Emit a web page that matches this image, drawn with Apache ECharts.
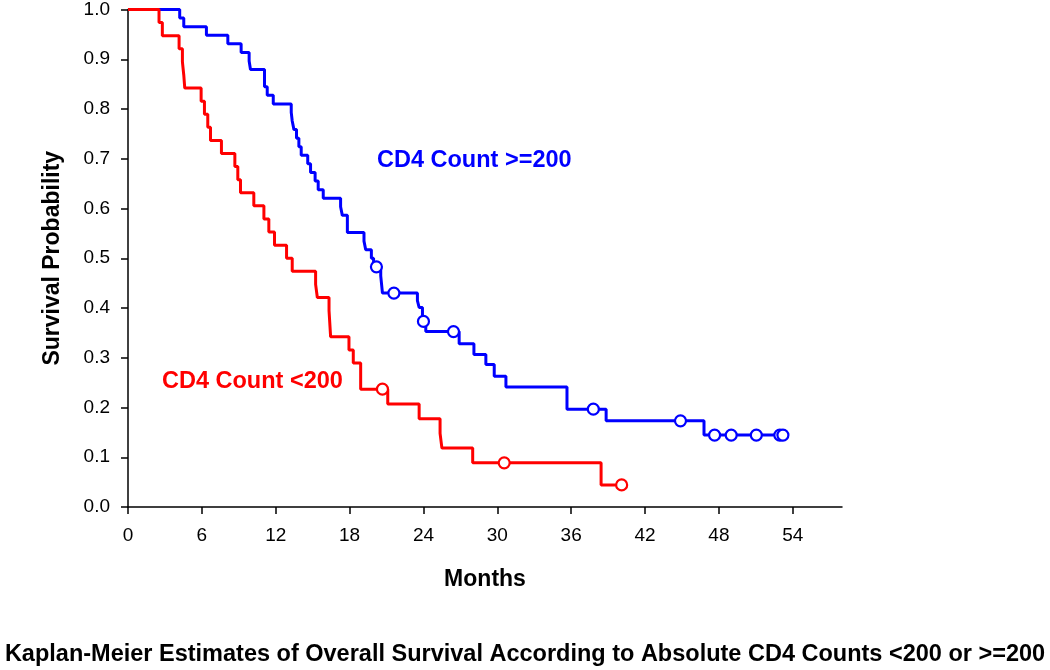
<!DOCTYPE html>
<html>
<head>
<meta charset="utf-8">
<script src="https://cdn.jsdelivr.net/npm/echarts@6/dist/echarts.min.js"></script>
<style>html,body{margin:0;padding:0;background:#fff}#c{width:1050px;height:670px}</style>
</head>
<body>
<div id="c"></div>
<script>
// ---- Data ----
const xTicks = [0, 6, 12, 18, 24, 30, 36, 42, 48, 54];
const yTicks = [0, 0.1, 0.2, 0.3, 0.4, 0.5, 0.6, 0.7, 0.8, 0.9, 1.0];

// CD4 >= 200 (blue): step times (months) and survival after each step
const highTimes = [0, 4.2, 4.53, 6.37, 8.11, 9.19, 9.84, 9.95, 11.09, 11.31, 11.8, 13.26, 13.34, 13.48, 13.69, 13.88, 14.07, 14.6, 14.83, 15.2, 15.45, 15.86, 17.27, 17.41, 17.82, 19.17, 19.31, 19.77, 19.95, 20.53, 20.67, 23.51, 23.65, 23.92, 23.97, 24.19, 26.9, 28.1, 29.07, 29.75, 30.7, 35.66, 38.84, 46.79, 53.2];
const highSurv  = [1, 0.9828, 0.9655, 0.9483, 0.931, 0.9138, 0.8966, 0.8793, 0.8448, 0.8276, 0.8103, 0.7931, 0.7759, 0.7586, 0.7414, 0.7241, 0.7069, 0.6897, 0.6724, 0.6552, 0.6379, 0.6207, 0.6034, 0.5862, 0.5517, 0.5345, 0.5172, 0.5, 0.4828, 0.4646, 0.43, 0.4146, 0.401, 0.3846, 0.373, 0.3526, 0.328, 0.3066, 0.2866, 0.2626, 0.2412, 0.1966, 0.1732, 0.1446, 0.1446];
const highCensorTimes = [20.18, 21.6, 24.0, 26.44, 37.8, 44.88, 47.65, 49.0, 51.04, 52.95, 53.2];
const highCensorSurv  = [0.4828, 0.43, 0.373, 0.3526, 0.1966, 0.1732, 0.1446, 0.1446, 0.1446, 0.1446, 0.1446];

// CD4 < 200 (red)
const lowTimes = [0, 2.52, 2.79, 4.15, 4.42, 4.53, 4.61, 5.94, 6.21, 6.48, 6.70, 7.59, 8.68, 8.92, 9.14, 10.22, 11.04, 11.44, 11.9, 12.88, 13.34, 15.24, 15.38, 16.33, 16.46, 17.95, 18.3, 18.9, 21.1, 23.65, 25.35, 25.5, 28.0, 38.43, 40.1];
const lowSurv  = [1, 0.9737, 0.9474, 0.9211, 0.8947, 0.8684, 0.8421, 0.8158, 0.7895, 0.7632, 0.7368, 0.7105, 0.6842, 0.6579, 0.6316, 0.6053, 0.5789, 0.5526, 0.5263, 0.5, 0.4737, 0.4474, 0.4211, 0.3947, 0.3421, 0.3158, 0.2895, 0.2368, 0.2072, 0.1776, 0.148, 0.1184, 0.0888, 0.0444, 0.0444];
const lowCensorTimes = [20.67, 30.56, 40.1];
const lowCensorSurv  = [0.2368, 0.0888, 0.0444];

const titleText = 'Kaplan-Meier Estimates of Overall Survival According to Absolute CD4 Counts <200 or >=200';
const xName = 'Months';
const yName = 'Survival Probability';
const highLabel = 'CD4 Count >=200';
const lowLabel = 'CD4 Count <200';

// ---- Chart ----
const BLUE = '#0000FF', RED = '#FF0000';
const FONT = 'Liberation Sans, Arial, sans-serif';
const zip = (a, b) => a.map((v, i) => [v, b[i]]);

const chart = echarts.init(document.getElementById('c'), null, {renderer: 'canvas'});
chart.setOption({
  animation: false,
  backgroundColor: '#fff',
  grid: {left: 128, top: 7, right: 208, bottom: 163, containLabel: false},
  xAxis: {
    type: 'value', min: 0, max: 58, interval: 6,
    name: xName, nameLocation: 'middle', nameGap: 61,
    nameTextStyle: {fontFamily: FONT, fontWeight: 'bold', fontSize: 23, color: '#000'},
    axisLine: {show: true, onZero: false, lineStyle: {color: '#000', width: 1.5}},
    axisTick: {show: true, inside: false, length: 7, lineStyle: {color: '#000', width: 1.5}, customValues: xTicks},
    axisLabel: {fontFamily: FONT, fontSize: 19, color: '#000', margin: 19, customValues: xTicks},
    splitLine: {show: false}
  },
  yAxis: {
    type: 'value', min: 0, max: 1, interval: 0.1,
    name: yName, nameLocation: 'middle', nameGap: 64, nameRotate: 90,
    nameTextStyle: {fontFamily: FONT, fontWeight: 'bold', fontSize: 23, color: '#000'},
    axisLine: {show: true, lineStyle: {color: '#000', width: 1.5}},
    axisTick: {show: true, inside: false, length: 7, lineStyle: {color: '#000', width: 1.5}},
    axisLabel: {fontFamily: FONT, fontSize: 19, color: '#000', margin: 18, formatter: v => v.toFixed(1)},
    splitLine: {show: false}
  },
  title: {
    text: titleText, left: 'center', top: 638,
    textStyle: {fontFamily: FONT, fontWeight: 'bold', fontSize: 23.5, color: '#000'}
  },
  graphic: [
    {type: 'text', left: 377, top: 149, style: {text: highLabel, fill: BLUE, font: 'bold 23.5px ' + FONT}},
    {type: 'text', left: 162, top: 370, style: {text: lowLabel, fill: RED, font: 'bold 23.5px ' + FONT}}
  ],
  series: [
    {type: 'line', step: 'end', data: zip(highTimes, highSurv), showSymbol: false,
     lineStyle: {color: BLUE, width: 3}, z: 2},
    {type: 'line', step: 'end', data: zip(lowTimes, lowSurv), showSymbol: false,
     lineStyle: {color: RED, width: 3}, z: 2},
    {type: 'scatter', data: zip(highCensorTimes, highCensorSurv), symbol: 'circle', symbolSize: 11,
     itemStyle: {color: '#fff', borderColor: BLUE, borderWidth: 2.2, opacity: 1}, z: 3},
    {type: 'scatter', data: zip(lowCensorTimes, lowCensorSurv), symbol: 'circle', symbolSize: 11,
     itemStyle: {color: '#fff', borderColor: RED, borderWidth: 2.2, opacity: 1}, z: 3}
  ]
});
</script>
</body>
</html>
